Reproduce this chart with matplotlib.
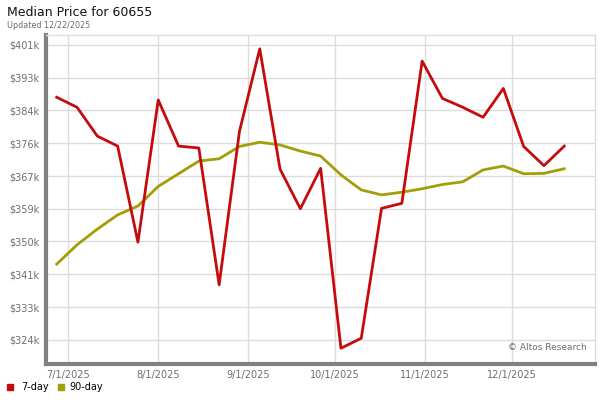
import datetime as dt

import matplotlib

matplotlib.use("Agg")
import matplotlib.dates as mdates  # noqa: E402
import matplotlib.pyplot as plt  # noqa: E402
from matplotlib.patches import Rectangle  # noqa: E402

# weekly points, starting Fri 6/27/2025
start = dt.date(2025, 6, 27)
dates = [start + dt.timedelta(weeks=i) for i in range(26)]

# values in $k
seven_day = [387.4, 384.8, 377.3, 374.7, 349.7, 386.7, 374.7, 374.2, 338.6, 378.5,
             400.0, 368.7, 358.4, 368.9, 322.1, 324.7, 358.5, 359.8, 396.8, 387.1,
             384.8, 382.2, 389.7, 374.6, 369.6, 374.7]
ninety_day = [344.0, 349.0, 353.1, 356.8, 359.1, 364.2, 367.5, 370.8, 371.4, 374.6,
              375.7, 375.0, 373.4, 372.1, 367.2, 363.3, 362.0, 362.7, 363.6, 364.7,
              365.4, 368.5, 369.5, 367.5, 367.6, 368.8]

ytick_vals = [324.3, 332.8, 341.3, 349.9, 358.4, 366.9, 375.4, 384.0, 392.5, 401.0]
ytick_labels = ["$324k", "$333k", "$341k", "$350k", "$359k", "$367k",
                "$376k", "$384k", "$393k", "$401k"]
xtick_dates = [dt.date(2025, m, 1) for m in range(7, 13)]
xtick_labels = ["7/1/2025", "8/1/2025", "9/1/2025", "10/1/2025", "11/1/2025", "12/1/2025"]

RED = "#c40c0c"
OLIVE = "#a39e06"
GRID = "#dcdcdc"
TXT = "#6e6e6e"

plt.rcParams["font.family"] = ["DejaVu Sans"]

fig = plt.figure(figsize=(6, 4), dpi=100)
ax = fig.add_axes([46 / 600, 1 - 364 / 400, 549 / 600, 329 / 400])

ax.plot(dates, ninety_day, color=OLIVE, linewidth=2.0, solid_joinstyle="round", zorder=3)
ax.plot(dates, seven_day, color=RED, linewidth=2.0, solid_joinstyle="round", zorder=4)

ax.set_xlim(mdates.date2num(dt.date(2025, 6, 23)) + 0.3,
            mdates.date2num(dt.date(2025, 12, 29)) + 0.6)
ax.set_ylim(318.0, 403.6)

ax.set_yticks(ytick_vals)
ax.set_yticklabels(ytick_labels)
ax.set_xticks([mdates.date2num(d) for d in xtick_dates])
ax.set_xticklabels(xtick_labels)
ax.tick_params(axis="both", length=0, labelsize=7, labelcolor=TXT)
ax.tick_params(axis="y", pad=5)
ax.tick_params(axis="x", pad=4)
ax.grid(True, color=GRID, linewidth=1.0, zorder=0)
ax.set_axisbelow(True)

for side in ("top", "right"):
    ax.spines[side].set_color(GRID)
    ax.spines[side].set_linewidth(1.0)
ax.spines["left"].set_color("#808080")
ax.spines["left"].set_linewidth(3.0)
ax.spines["bottom"].set_color("#808080")
ax.spines["bottom"].set_linewidth(3.0)

ax.text(0.985, 0.035, "© Altos Research", transform=ax.transAxes, ha="right",
        va="bottom", fontsize=6.5, color=TXT)

fig.text(7 / 600, 1 - 12 / 400, "Median Price for 60655", fontsize=9,
         va="center", ha="left", color="#111111")
fig.text(7 / 600, 1 - 25 / 400, "Updated 12/22/2025", fontsize=5.8, va="center",
         ha="left", color=TXT)

# legend
fig.patches.append(Rectangle((7 / 600, 1 - 390 / 400), 6 / 600, 6 / 400,
                             transform=fig.transFigure, color=RED))
fig.text(21 / 600, 1 - 387 / 400, "7-day", fontsize=7, va="center", ha="left")
fig.patches.append(Rectangle((58 / 600, 1 - 390 / 400), 6 / 600, 6 / 400,
                             transform=fig.transFigure, color=OLIVE))
fig.text(69 / 600, 1 - 387 / 400, "90-day", fontsize=7, va="center", ha="left")

fig.savefig("out.png", dpi=100)
